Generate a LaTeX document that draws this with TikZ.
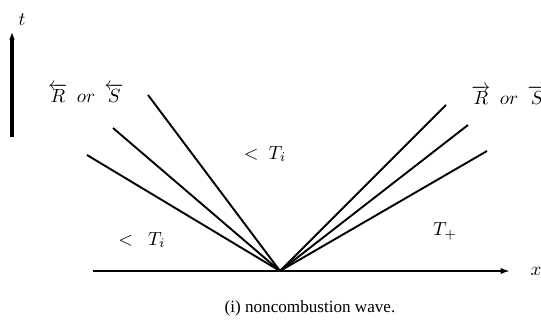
\documentclass[tikz,border=0pt]{standalone}
\usepackage{fontspec}
\setmainfont{Liberation Serif}
\usetikzlibrary{arrows.meta}
\tikzset{
  axis/.style={-{Latex[length=5pt,width=3.4pt]},line width=1.2pt},
  taxis/.style={axis,line width=1.6pt,-{Latex[length=4pt,width=3pt]}},
  ray/.style={line width=1pt},
  lbl/.style={inner sep=0pt},
}

\begin{document}
\begin{tikzpicture}[x=0.526pt,y=-0.526pt]
\useasboundingbox (0,0) rectangle (541,327);

% ---- axes
\coordinate (o) at (280,271);
\coordinate (xs) at (93,271);
\coordinate (xe) at (510,271);
\coordinate (ts) at (12,137);
\coordinate (te) at (12,32);
\draw[axis] (xs) -- (xe);
\draw[taxis] (ts) -- (te);
\node[lbl] (xl) at (536,271) {$x$};
\node[lbl] (tl) at (22,20) {$t$};

% ---- left fan
\coordinate (l1) at (148,95);
\coordinate (l2) at (113,128);
\coordinate (l3) at (87,155);
\draw[ray] (o) -- (l1);
\draw[ray] (o) -- (l2);
\draw[ray] (o) -- (l3);

% ---- right fan
\coordinate (r1) at (446,105);
\coordinate (r2) at (468,125);
\coordinate (r3) at (487,151);
\draw[ray] (o) -- (r1);
\draw[ray] (o) -- (r2);
\draw[ray] (o) -- (r3);

% ---- states
\node[lbl] (wl) at (86,93) {$\overleftarrow{R}\enspace or\enspace \overleftarrow{S}$};
\node[lbl,anchor=west] (wr) at (471,95) {$\overrightarrow{R}\enspace or\enspace \overrightarrow{S}$};
\node[lbl] (tm) at (265,154) {$<\ T_i$};
\node[lbl] (tlft) at (142,240) {$<\ \ T_i$};
\node[lbl] (tp) at (445,231) {$T_+$};

% ---- caption
\node[lbl,font=\small] (cap) at (310,308) {(i) noncombustion wave.};

\end{tikzpicture}
\end{document}
